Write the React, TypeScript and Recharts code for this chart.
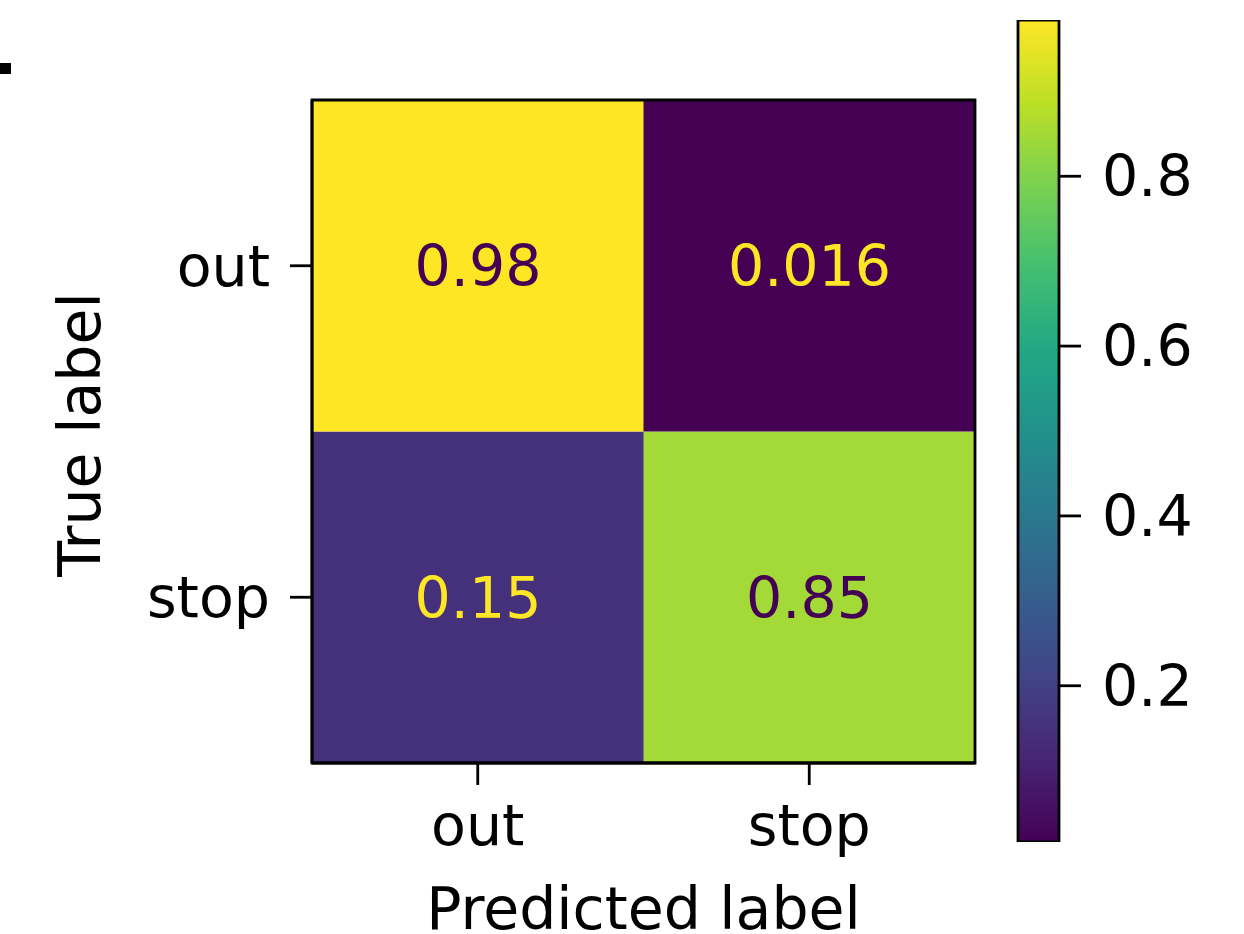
import React from "react";
import {
	Bar,
	BarChart,
	Cell,
	LabelList,
	ReferenceArea,
	XAxis,
	YAxis,
} from "recharts";

// class names, predicted along x, true along y
const classLabels = ["out", "stop"];
// normalized confusion rows (true label -> predicted)
const trueOutRow = [0.984, 0.016];
const trueStopRow = [0.15, 0.85];
const colorbarTicks = [0.2, 0.4, 0.6, 0.8];

const FONT = "'DejaVu Sans', sans-serif";
const FONT_SIZE = 57;
const TITLE_SIZE = 58.5;

const allValues = [...trueOutRow, ...trueStopRow];
const vmin = Math.min(...allValues);
const vmax = Math.max(...allValues);

// viridis sampled at 0, 0.1, ... 1
const viridis = [
	"#440154",
	"#482475",
	"#414487",
	"#355f8d",
	"#2a788e",
	"#21918c",
	"#22a884",
	"#44bf70",
	"#7ad151",
	"#bddf26",
	"#fde725",
];

function hexToRgb(h: string) {
	return [1, 3, 5].map((i) => parseInt(h.slice(i, i + 2), 16));
}

function viridisAt(t: number) {
	const c = Math.max(0, Math.min(1, t)) * (viridis.length - 1);
	const i = Math.min(Math.floor(c), viridis.length - 2);
	const f = c - i;
	const a = hexToRgb(viridis[i]);
	const b = hexToRgb(viridis[i + 1]);
	const rgb = a.map((v, k) => Math.round(v + (b[k] - v) * f));
	return `rgb(${rgb.join(",")})`;
}

const norm = (v: number) => (v - vmin) / (vmax - vmin);
const cellColor = (v: number) => viridisAt(norm(v));
const textColor = (v: number) =>
	v < (vmin + vmax) / 2 ? viridis[viridis.length - 1] : viridis[0];

// rows bottom-to-top on the y axis
const rowOrder = ["stop", "out"];

const heatData = classLabels.map((p, i) => ({
	predicted: p,
	stopCell: 1,
	outCell: 1,
	stopVal: trueStopRow[i],
	outVal: trueOutRow[i],
}));

const colorbarData = [{ name: "cb", range: [vmin, vmax] }];

const axisStroke = { stroke: "#000", strokeWidth: 2.8 };
const tickStyle = { fontSize: FONT_SIZE, fill: "#000", fontFamily: FONT };
const heatMargin = { top: 100, right: 269, left: 0, bottom: 0 };

function CellText(props: any) {
	const { x, y, width, height, value } = props;
	return (
		<text
			x={x + width / 2}
			y={y + height / 2}
			dy='0.36em'
			textAnchor='middle'
			fontSize={FONT_SIZE}
			fontFamily={FONT}
			fill={textColor(value)}
		>
			{Number(value).toPrecision(2)}
		</text>
	);
}

function XTitle(props: any) {
	const vb = props.viewBox;
	return (
		<text
			x={vb.x + vb.width / 2}
			y={vb.y + 166}
			textAnchor='middle'
			fontSize={TITLE_SIZE}
			fontFamily={FONT}
			fill='#000'
		>
			Predicted label
		</text>
	);
}

function YTitle(props: any) {
	const vb = props.viewBox;
	const cx = vb.x + 100;
	const cy = vb.y + vb.height / 2 + 3;
	return (
		<text
			x={cx}
			y={cy}
			transform={`rotate(-90 ${cx} ${cy})`}
			textAnchor='middle'
			fontSize={TITLE_SIZE}
			fontFamily={FONT}
			fill='#000'
		>
			True label
		</text>
	);
}

export default function App() {
	return (
		<div
			style={{
				position: "absolute",
				left: 0,
				top: 0,
				width: 1244,
				height: 934,
				background: "#fff",
				overflow: "hidden",
			}}
		>
			<div
				style={{
					position: "absolute",
					left: 0,
					top: 63,
					width: 11,
					height: 11,
					background: "#000",
				}}
			/>

			{/* cells */}
			<div style={{ position: "absolute", left: 0, top: 0 }}>
				<BarChart
					width={1244}
					height={934}
					data={heatData}
					margin={heatMargin}
					barCategoryGap={0}
					barGap={0}
				>
					<XAxis
						dataKey='predicted'
						height={171}
						axisLine={false}
						tickLine={false}
						tick={false}
					/>
					<YAxis
						type='number'
						domain={[0, 2]}
						width={312}
						axisLine={false}
						tickLine={false}
						tick={false}
					/>
					<Bar dataKey='stopCell' stackId='m' isAnimationActive={false}>
						{heatData.map((d) => (
							<Cell key={d.predicted} fill={cellColor(d.stopVal)} />
						))}
						<LabelList dataKey='stopVal' content={CellText} />
					</Bar>
					<Bar dataKey='outCell' stackId='m' isAnimationActive={false}>
						{heatData.map((d) => (
							<Cell key={d.predicted} fill={cellColor(d.outVal)} />
						))}
						<LabelList dataKey='outVal' content={CellText} />
					</Bar>
				</BarChart>
			</div>

			{/* frame, ticks and axis titles drawn above the cells */}
			<div style={{ position: "absolute", left: 0, top: 0 }}>
				<BarChart
					width={1244}
					height={934}
					data={heatData}
					margin={heatMargin}
					barCategoryGap={0}
					barGap={0}
				>
					<XAxis
						dataKey='predicted'
						height={171}
						stroke='#000'
						strokeWidth={2.8}
						axisLine={axisStroke}
						tickLine={axisStroke}
						tickSize={22}
						tickMargin={20}
						tick={tickStyle}
						label={{ content: XTitle }}
					/>
					<YAxis
						type='number'
						domain={[0, 2]}
						ticks={[0.5, 1.5]}
						tickFormatter={(v: number) => rowOrder[Math.floor(v)]}
						width={312}
						stroke='#000'
						strokeWidth={2.8}
						axisLine={axisStroke}
						tickLine={axisStroke}
						tickSize={22}
						tickMargin={20}
						tick={tickStyle}
						label={{ content: YTitle }}
					/>
					{/* invisible series so the axes have something to scale */}
					<Bar
						dataKey='stopCell'
						stackId='f'
						fill='none'
						isAnimationActive={false}
					/>
					<Bar
						dataKey='outCell'
						stackId='f'
						fill='none'
						isAnimationActive={false}
					/>
					<ReferenceArea
						x1={classLabels[0]}
						x2={classLabels[classLabels.length - 1]}
						y1={0}
						y2={rowOrder.length}
						fill='none'
						fillOpacity={0}
						stroke='#000'
						strokeWidth={2.8}
						ifOverflow='visible'
					/>
				</BarChart>
			</div>

			{/* colorbar */}
			<div style={{ position: "absolute", left: 0, top: 0 }}>
				<BarChart
					width={1244}
					height={934}
					data={colorbarData}
					margin={{ top: 20, right: 0, left: 1018, bottom: 92 }}
					barCategoryGap={0}
				>
					<defs>
						<linearGradient id='viridisGrad' x1='0' y1='1' x2='0' y2='0'>
							{viridis.map((c, i) => (
								<stop
									key={c}
									offset={`${(i / (viridis.length - 1)) * 100}%`}
									stopColor={c}
								/>
							))}
						</linearGradient>
					</defs>
					<XAxis dataKey='name' hide />
					<YAxis
						orientation='right'
						type='number'
						domain={[vmin, vmax]}
						allowDataOverflow
						ticks={colorbarTicks}
						tickFormatter={(v: number) => v.toFixed(1)}
						width={185}
						stroke='#000'
						axisLine={false}
						tickLine={axisStroke}
						tickSize={22}
						tickMargin={21}
						tick={{ ...tickStyle, textAnchor: "start" }}
					/>
					<Bar
						dataKey='range'
						fill='url(#viridisGrad)'
						stroke='#000'
						strokeWidth={2.8}
						isAnimationActive={false}
					/>
				</BarChart>
			</div>
		</div>
	);
}
